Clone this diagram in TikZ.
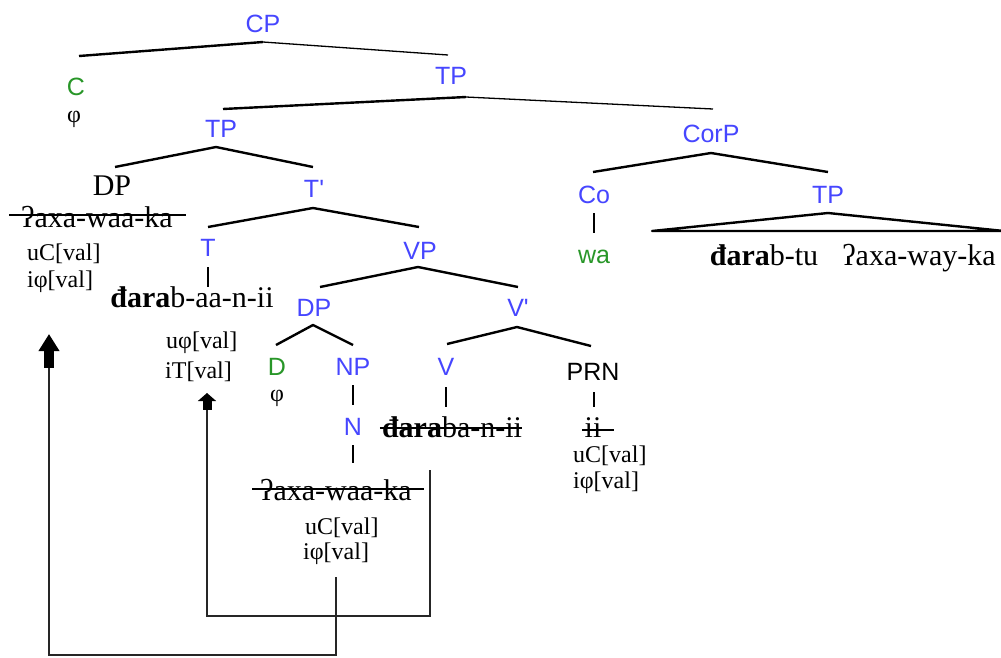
\documentclass[tikz,border=0pt]{standalone}
\usepackage{fontspec}
\setmainfont{Liberation Serif}
\newfontfamily\lsans{Liberation Sans}[Ligatures=TeXOff]
\usetikzlibrary{calc,arrows.meta}
\definecolor{lblue}{RGB}{70,70,255}
\definecolor{lgreen}{RGB}{40,150,40}
\begin{document}
\begin{tikzpicture}[x=1pt,y=-1pt,
  lab/.style={font=\lsans\fontsize{25}{25}\selectfont, text=lblue, inner sep=0pt, text height=18pt, text depth=0pt},
  ser/.style={font=\fontsize{30}{30}\selectfont, inner sep=0pt},
  feat/.style={font=\fontsize{24}{24}\selectfont, inner sep=0pt, text height=16pt, text depth=5pt},
  br/.style={line width=2.4pt, line join=round},
  thinbr/.style={line width=1.3pt},
  vl/.style={line width=1.5pt},
  strike/.style={line width=1.3pt},
  arr/.style={line width=1.5pt, draw=black!85}
]
\useasboundingbox (0,0) rectangle (1001,657);

% labels
\node[lab] (CP) at (263,23) {CP};
\node[lab,text=lgreen] (C) at (76,86) {C};
\node[feat] (phiC) at (74,117) {φ};
\node[lab] (TPa) at (451,75) {TP};
\node[lab] (TPb) at (221,128) {TP};
\node[ser,anchor=base] (DPa) at (112,195) {DP};
\node[lab] (Tbar) at (314,188) {T'};
\node[ser,anchor=base] (subj) at (97,227) {ʔaxa-waa-ka};
\node[feat,anchor=base west] (fa1) at (27,260) {uC[val]};
\node[feat,anchor=base west] (fa2) at (27,287) {iφ[val]};
\node[lab] (T) at (208,247) {T};
\node[ser,anchor=base] (verb) at (192,307) {\textbf{đara}b-aa-n-ii};
\node[feat,anchor=base west] (ft1) at (166,348) {uφ[val]};
\node[feat,anchor=base west] (ft2) at (165,378) {iT[val]};
\node[lab] (VP) at (420,250) {VP};
\node[lab] (DPb) at (314,307) {DP};
\node[lab] (Vbar) at (518,307) {V'};
\node[lab,text=lgreen] (D) at (277,366) {D};
\node[feat] (phiD) at (277,396) {φ};
\node[lab] (NP) at (353,366) {NP};
\node[lab] (V) at (446,366) {V};
\node[lab,text=black] (PRN) at (593,371) {PRN};
\node[lab] (N) at (353,426) {N};
\node[ser,anchor=base] (verb2) at (452,437) {\textbf{đara}ba-n-ii};
\node[ser,anchor=base] (ii) at (593,437) {ii};
\node[feat,anchor=base west] (fp1) at (573,462) {uC[val]};
\node[feat,anchor=base west] (fp2) at (573,488) {iφ[val]};
\node[ser,anchor=base] (obj) at (336,500) {ʔaxa-waa-ka};
\node[feat,anchor=base west] (fb1) at (305,534) {uC[val]};
\node[feat,anchor=base west] (fb2) at (303,559) {iφ[val]};
\node[lab] (CorP) at (711,133) {CorP};
\node[lab] (Co) at (594,194) {Co};
\node[lab] (TPc) at (828,194) {TP};
\node[lab,text=lgreen] (wa) at (594,254) {wa};
\node[ser,anchor=base] (tp1) at (764,265) {\textbf{đara}b-tu};
\node[ser,anchor=base] (tp2) at (919,265) {ʔaxa-way-ka};

% branches
\draw[br] ($(C)+(3,-30)$) -- ($(CP)+(0,19)$);
\draw[thinbr] ($(CP)+(0,19)$) -- ($(TPa)+(-3,-20)$);
\draw[br] ($(TPb)+(2,-19)$) -- ($(TPa)+(15,22)$);
\draw[thinbr] ($(TPa)+(15,22)$) -- ($(CorP)+(2,-24)$);
\draw[br] ($(DPa.base)+(3,-28)$) -- ($(TPb)+(-5,19)$) -- ($(Tbar)+(-1,-21)$);
\draw[br] ($(T)+(0,-20)$) -- ($(Tbar)+(-1,20)$) -- ($(VP)+(-1,-23)$);
\draw[vl] ($(T)+(0,20)$) -- ($(verb.base)+(16,-20)$);
\draw[br] ($(DPb)+(6,-20)$) -- ($(VP)+(-2,17)$) -- ($(Vbar)+(0,-20)$);
\draw[br] ($(D)+(-1,-21)$) -- ($(DPb)+(-1,18)$) -- ($(NP)+(0,-21)$);
\draw[br] ($(V)+(1,-22)$) -- ($(Vbar)+(-1,20)$) -- ($(PRN)+(-2,-25)$);
\draw[vl] ($(NP)+(0,19)$) -- ($(N)+(0,-21)$);
\draw[vl] ($(V)+(0,21)$) -- ($(verb2.base)+(-6,-30)$);
\draw[vl] ($(PRN)+(1,21)$) -- ($(ii.base)+(1,-30)$);
\draw[vl] ($(N)+(0,19)$) -- ($(obj.base)+(17,-37)$);
\draw[br] ($(Co)+(-1,-22)$) -- ($(CorP)+(0,20)$) -- ($(TPc)+(0,-22)$);
\draw[vl] ($(Co)+(0,19)$) -- ($(wa)+(0,-21)$);
\draw[br] ($(TPc)+(0,19)$) -- ($(TPc)+(-176,37)$) -- ($(TPc)+(176,37)$) -- cycle;

% strike-throughs
\draw[strike] ($(subj.base west)+(-12,-12)$) -- ($(subj.base east)+(13,-12)$);
\draw[strike] ($(verb2.base west)+(-2,-9)$) -- ($(verb2.base east)+(0,-9)$);
\draw[strike] ($(ii.base west)+(-2,-7)$) -- ($(ii.base east)+(12,-7)$);
\draw[strike] ($(obj.base west)+(-8,-11)$) -- ($(obj.base east)+(12,-11)$);

% agreement arrows
\draw[arr, -{Rectangle[black,width=10pt,length=17pt]Triangle[black,width=21pt,length=17pt]}]
  ($(fb2.south)+(0,13)$) -- ++(0,78) -| ($(fa2.south west)+(22,42)$);
\draw[arr, -{Rectangle[black,width=9pt,length=9pt]Triangle[black,width=18pt,length=8pt]}]
  ($(verb2.base)+(-22,33)$) -- ++(0,146) -| ($(ft2.base west)+(42,15)$);
\end{tikzpicture}
\end{document}
